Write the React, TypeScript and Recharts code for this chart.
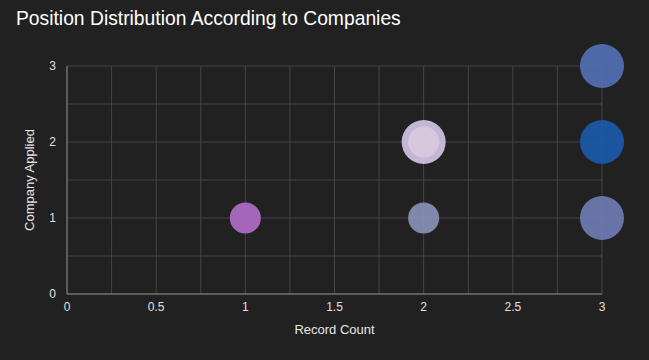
import React from "react";
import {
  ScatterChart,
  Scatter,
  XAxis,
  YAxis,
  ZAxis,
  CartesianGrid,
  Cell,
} from "recharts";

const recordCount = [1, 2, 2, 2, 3, 3, 3];
const companyApplied = [1, 1, 2, 2, 3, 2, 1];
const weight = [1, 1, 2, 1, 2, 2, 2];
const colors = ["#a366b8", "#8992b9", "#d6c6ea", "#d8c8de", "#5271b7", "#1b5bae", "#707cb7"];
const opacities = [1, 0.9, 0.9, 1, 0.9, 0.9, 0.9];

const xTicks = [0, 0.5, 1, 1.5, 2, 2.5, 3];
const yTicks = [0, 1, 2, 3];
const xGrid = [0.25, 0.5, 0.75, 1, 1.25, 1.5, 1.75, 2, 2.25, 2.5, 2.75, 3];
const yGrid = [0.5, 1, 1.5, 2, 2.5, 3];

const data = recordCount.map((x, i) => ({
  x,
  y: companyApplied[i],
  z: weight[i],
}));

const FONT = "'Liberation Sans', Arial, sans-serif";

export default function App() {
  return (
    <div
      style={{
        position: "fixed",
        left: 0,
        top: 0,
        width: 649,
        height: 360,
        background: "#212121",
        fontFamily: FONT,
      }}
    >
      <div
        style={{
          position: "absolute",
          left: 16,
          top: 8,
          fontSize: 19.3,
          color: "#ffffff",
          whiteSpace: "nowrap",
        }}
      >
        Position Distribution According to Companies
      </div>
      <ScatterChart
        width={649}
        height={360}
        margin={{ top: 66, right: 47, bottom: 0, left: 0 }}
        style={{ fontFamily: FONT }}
      >
        <CartesianGrid
          stroke="#454545"
          horizontalValues={yGrid}
          verticalValues={xGrid}
        />
        <XAxis
          type="number"
          dataKey="x"
          domain={[0, 3]}
          ticks={xTicks}
          height={66}
          tickLine={false}
          tickSize={0}
          tickMargin={8}
          axisLine={{ stroke: "#9a9a9a" }}
          tick={{ fill: "#e0e0e0", fontSize: 12 }}
          label={{
            value: "Record Count",
            position: "insideTop",
            offset: 31,
            fill: "#e8e8e8",
            fontSize: 13,
          }}
        />
        <YAxis
          type="number"
          dataKey="y"
          domain={[0, 3]}
          ticks={yTicks}
          width={67}
          tickLine={false}
          tickSize={0}
          tickMargin={11}
          axisLine={{ stroke: "#9a9a9a" }}
          tick={{ fill: "#e0e0e0", fontSize: 12 }}
          label={{
            value: "Company Applied",
            angle: -90,
            position: "insideLeft",
            offset: 29,
            style: { textAnchor: "middle" },
            fill: "#e8e8e8",
            fontSize: 13,
          }}
        />
        <ZAxis type="number" dataKey="z" domain={[0, 2]} range={[0, 1520]} />
        <Scatter data={data} shape="circle" isAnimationActive={false}>
          {data.map((d, i) => (
            <Cell key={i} fill={colors[i]} fillOpacity={opacities[i]} />
          ))}
        </Scatter>
      </ScatterChart>
    </div>
  );
}
